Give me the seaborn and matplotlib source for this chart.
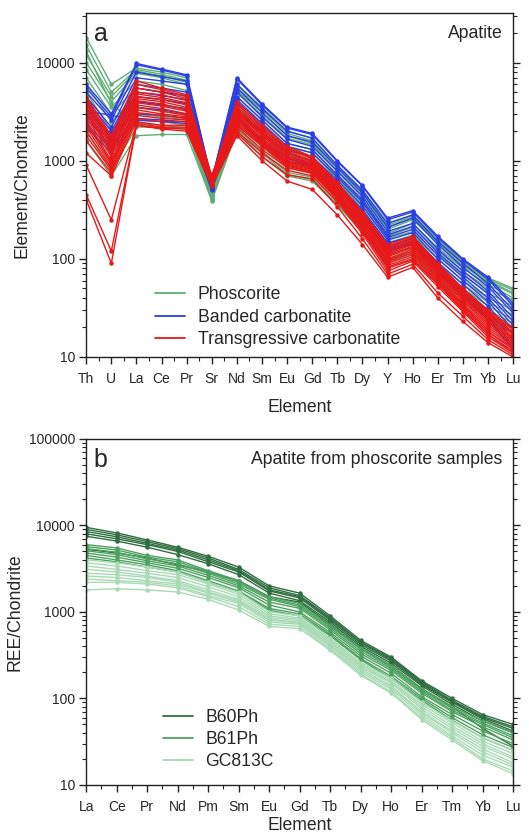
import matplotlib
matplotlib.use("Agg")
import matplotlib.pyplot as plt
from matplotlib.lines import Line2D
from matplotlib.ticker import MultipleLocator, FixedLocator, LogLocator, NullFormatter
import pandas as pd
import seaborn as sns

# ---- data: panel a (Element/Chondrite) ----
elements_a = ["Th", "U", "La", "Ce", "Pr", "Sr", "Nd", "Sm", "Eu", "Gd",
              "Tb", "Dy", "Y", "Ho", "Er", "Tm", "Yb", "Lu"]

phoscorite = [
    [18000, 6000, 8800, 8000, 7000, 560, 6000, 3500, 2000, 1700, 880, 500, 230, 280, 160, 95, 64, 50],
    [15000, 5000, 8500, 7600, 6600, 540, 5600, 3300, 1900, 1600, 850, 480, 220, 270, 155, 92, 62, 48],
    [12000, 4500, 8200, 7300, 6300, 520, 5200, 3100, 1800, 1500, 800, 460, 210, 260, 150, 90, 60, 45],
    [10000, 4000, 7800, 7000, 6000, 500, 5000, 2900, 1700, 1450, 780, 440, 200, 250, 145, 85, 58, 44],
    [8500, 3500, 6500, 6000, 5200, 480, 4500, 2600, 1500, 1300, 700, 400, 180, 230, 130, 80, 55, 40],
    [7000, 3000, 5500, 5000, 4500, 460, 4000, 2400, 1400, 1200, 650, 370, 170, 210, 120, 75, 50, 38],
    [6000, 2500, 4500, 4200, 3800, 450, 3500, 2100, 1250, 1100, 600, 340, 160, 190, 110, 68, 45, 33],
    [5000, 2000, 4000, 3700, 3300, 440, 3100, 1900, 1150, 1000, 550, 310, 145, 175, 100, 60, 40, 30],
    [4000, 1700, 3500, 3200, 2900, 430, 2800, 1700, 1050, 900, 500, 280, 130, 160, 90, 55, 36, 27],
    [3000, 1300, 3000, 2800, 2600, 420, 2500, 1500, 950, 820, 450, 250, 120, 145, 80, 50, 33, 24],
    [2500, 1000, 2600, 2500, 2300, 410, 2300, 1400, 850, 750, 420, 230, 110, 130, 72, 45, 30, 22],
    [2000, 800, 2200, 2200, 2100, 400, 2100, 1250, 760, 680, 380, 210, 100, 120, 66, 40, 27, 20],
    [1600, 700, 1800, 1850, 1850, 390, 2000, 1100, 700, 620, 350, 190, 92, 110, 60, 36, 25, 17],
    [13000, 3800, 2400, 2300, 2150, 450, 2200, 1200, 720, 650, 360, 200, 95, 115, 65, 38, 26, 18],
]

banded = [
    [6000, 3000, 9800, 8600, 7500, 640, 7000, 3800, 2200, 1900, 1000, 560, 260, 310, 170, 100, 65, 35],
    [5500, 2800, 9500, 8400, 7300, 620, 6800, 3700, 2150, 1850, 980, 550, 250, 300, 165, 98, 62, 33],
    [5000, 2600, 8000, 7200, 6500, 600, 6000, 3400, 2000, 1700, 900, 500, 230, 280, 150, 90, 56, 30],
    [4500, 2200, 7000, 6500, 6000, 590, 5500, 3100, 1800, 1550, 850, 470, 210, 260, 140, 82, 52, 28],
    [4200, 2000, 6000, 5500, 5000, 580, 5000, 2800, 1650, 1400, 780, 430, 190, 230, 125, 75, 47, 25],
    [3800, 1800, 5500, 5000, 4600, 570, 4500, 2600, 1500, 1300, 720, 400, 175, 215, 115, 70, 44, 23],
    [3500, 1700, 5000, 4600, 4200, 560, 4200, 2400, 1400, 1200, 680, 380, 165, 200, 108, 65, 40, 21],
    [3300, 1600, 4500, 4200, 3800, 550, 3800, 2200, 1300, 1100, 630, 350, 155, 185, 100, 60, 37, 19],
    [3000, 1500, 4000, 3700, 3400, 540, 3400, 2000, 1200, 1000, 580, 320, 145, 170, 92, 55, 33, 17],
    [2700, 1400, 3500, 3300, 3000, 530, 3100, 1800, 1100, 950, 540, 300, 135, 160, 85, 50, 30, 15],
    [2400, 1300, 3000, 2900, 2700, 520, 2900, 1650, 1050, 900, 510, 285, 128, 150, 80, 46, 27, 13],
    [2200, 1200, 2700, 2600, 2500, 500, 2800, 1550, 1000, 880, 500, 280, 125, 145, 78, 44, 25, 12],
    [3200, 2900, 2600, 2500, 2400, 510, 2700, 1500, 980, 860, 490, 270, 120, 140, 75, 42, 24, 12],
]

transgressive = [
    [4500, 1800, 6500, 5500, 4700, 700, 4000, 2300, 1400, 1100, 600, 300, 140, 170, 90, 50, 30, 20],
    [4200, 1700, 6000, 5300, 4500, 690, 3800, 2200, 1350, 1080, 580, 290, 135, 165, 88, 48, 29, 19],
    [4000, 1600, 5500, 5000, 4300, 680, 3600, 2100, 1300, 1050, 560, 280, 130, 160, 85, 47, 28, 18],
    [3800, 1500, 5000, 4700, 4100, 670, 3400, 2000, 1250, 1000, 540, 270, 125, 155, 82, 45, 27, 17.5],
    [3600, 1400, 4800, 4400, 3900, 660, 3300, 1950, 1200, 980, 520, 260, 120, 150, 80, 44, 26, 17],
    [3400, 1300, 4500, 4200, 3700, 650, 3200, 1900, 1150, 950, 510, 255, 115, 145, 78, 42, 25, 16],
    [3200, 1250, 4300, 4000, 3500, 640, 3100, 1850, 1100, 920, 500, 250, 112, 140, 75, 41, 24, 15.5],
    [3000, 1200, 4100, 3800, 3300, 630, 3000, 1800, 1080, 900, 480, 240, 108, 135, 72, 40, 23, 15],
    [2800, 1100, 3900, 3600, 3200, 620, 2900, 1700, 1050, 880, 470, 235, 105, 130, 70, 38, 22, 14.5],
    [2600, 1000, 3700, 3400, 3000, 610, 2800, 1650, 1000, 860, 460, 230, 100, 125, 68, 37, 21, 14],
    [2400, 950, 3500, 3200, 2900, 600, 2700, 1600, 980, 840, 450, 220, 97, 120, 65, 35, 20, 13.5],
    [2200, 900, 3300, 3000, 2800, 590, 2600, 1550, 950, 820, 440, 215, 94, 115, 63, 34, 19, 13],
    [2000, 850, 3100, 2900, 2700, 580, 2500, 1500, 920, 800, 430, 210, 90, 110, 60, 33, 18, 12.5],
    [1800, 800, 2900, 2700, 2600, 570, 2400, 1450, 900, 780, 420, 200, 86, 105, 58, 32, 18, 12],
    [1600, 750, 2700, 2500, 2500, 560, 2300, 1400, 880, 760, 410, 195, 83, 100, 56, 31, 17, 11.5],
    [1200, 700, 2500, 2300, 2300, 560, 2200, 1300, 850, 740, 400, 190, 80, 98, 55, 30, 17, 11],
    [900, 250, 2400, 2200, 2200, 560, 2000, 1200, 800, 700, 380, 180, 75, 95, 52, 29, 16, 11],
    [450, 120, 2300, 2150, 2100, 560, 1900, 1100, 720, 650, 340, 160, 70, 88, 45, 26, 15, 10.5],
    [400, 90, 2300, 2100, 2000, 550, 1800, 1000, 620, 510, 280, 140, 65, 82, 40, 23, 14, 10],
]

# ---- data: panel b (REE/Chondrite) ----
elements_b = ["La", "Ce", "Pr", "Nd", "Pm", "Sm", "Eu", "Gd", "Tb", "Dy",
              "Ho", "Er", "Tm", "Yb", "Lu"]

b60ph = [
    [9500, 8200, 6800, 5600, 4400, 3300, 2000, 1650, 900, 470, 300, 160, 100, 65, 50],
    [9000, 7800, 6500, 5400, 4200, 3100, 1900, 1550, 860, 450, 290, 155, 95, 62, 47],
    [8500, 7400, 6200, 5200, 4000, 3000, 1800, 1500, 830, 440, 280, 150, 92, 60, 45],
    [8000, 7000, 6000, 5000, 3800, 2900, 1750, 1450, 800, 420, 270, 145, 90, 58, 42],
    [7500, 6600, 5600, 4600, 3600, 2700, 1650, 1350, 760, 400, 255, 140, 85, 55, 40],
    [5300, 4800, 4200, 3500, 2900, 2300, 1500, 1300, 720, 380, 240, 130, 80, 45, 28],
]

b61ph = [
    [6000, 5500, 4500, 4000, 3000, 2300, 1500, 1250, 700, 380, 240, 130, 80, 55, 40],
    [5700, 5200, 4300, 3800, 2900, 2200, 1450, 1200, 680, 370, 230, 125, 77, 52, 37],
    [5400, 4900, 4100, 3600, 2800, 2100, 1400, 1150, 650, 350, 220, 120, 73, 50, 35],
    [5100, 4600, 3900, 3400, 2650, 2000, 1300, 1100, 620, 330, 210, 115, 70, 47, 33],
    [4800, 4300, 3700, 3200, 2500, 1900, 1200, 1000, 580, 310, 195, 105, 65, 42, 30],
    [4500, 4000, 3500, 3000, 2300, 1750, 1100, 950, 550, 290, 180, 100, 60, 38, 27],
    [4200, 3800, 3300, 2900, 2200, 1700, 1050, 900, 530, 280, 170, 95, 56, 35, 25],
]

gc813c = [
    [4000, 3700, 3300, 2900, 2200, 1700, 1000, 900, 500, 260, 170, 90, 55, 35, 25],
    [3700, 3400, 3000, 2700, 2100, 1600, 950, 850, 480, 250, 160, 85, 52, 32, 23],
    [3400, 3100, 2800, 2500, 1950, 1500, 900, 820, 460, 240, 155, 80, 48, 30, 21],
    [3100, 2900, 2600, 2300, 1800, 1400, 860, 790, 440, 230, 150, 75, 45, 28, 20],
    [2800, 2700, 2500, 2200, 1700, 1350, 820, 760, 420, 220, 140, 70, 42, 26, 18],
    [2600, 2500, 2300, 2100, 1650, 1300, 800, 740, 410, 210, 135, 68, 40, 24, 17],
    [2400, 2300, 2200, 2000, 1550, 1250, 760, 720, 390, 200, 128, 64, 37, 22, 16],
    [2200, 2200, 2100, 1900, 1500, 1150, 720, 680, 370, 190, 120, 60, 35, 20, 14.5],
    [1800, 1850, 1800, 1700, 1400, 1050, 680, 640, 360, 185, 115, 57, 33, 19, 13.5],
]

groups_a = ["Phoscorite", "Banded carbonatite", "Transgressive carbonatite"]
colors_a = ["#60ae74", "#2a3ee6", "#e81818"]
groups_b = ["B60Ph", "B61Ph", "GC813C"]
colors_b = ["#2f6e3f", "#4ea261", "#a8dab4"]


def to_long(sets, names, elements):
    rows = []
    for name, lines in zip(names, sets):
        for i, vals in enumerate(lines):
            for j, v in enumerate(vals):
                rows.append({"group": name, "sample": f"{name}_{i}",
                             "pos": j, "element": elements[j], "value": v})
    return pd.DataFrame(rows)


df_a = to_long([phoscorite, banded, transgressive], groups_a, elements_a)
df_b = to_long([b60ph, b61ph, gc813c], groups_b, elements_b)

sns.set_style("ticks")
plt.rcParams["font.family"] = ["Liberation Sans", "DejaVu Sans"]

fig = plt.figure(figsize=(5.29, 8.39), dpi=100)
ax_a = fig.add_axes([0.163, 0.5745, 0.807, 0.410])
ax_b = fig.add_axes([0.163, 0.0645, 0.807, 0.4123])


def draw(ax, df, names, colors, elements, ylim, ylabel, letter, title, leg_xy, xpad):
    sns.lineplot(data=df, x="pos", y="value", hue="group", hue_order=names,
                 palette=colors, units="sample", estimator=None, ax=ax,
                 legend=False, linewidth=1.0, marker="o", markersize=3.2,
                 markeredgewidth=0)
    ax.set_yscale("log")
    ax.set_ylim(*ylim)
    ax.set_xlim(0, len(elements) - 1)
    ax.xaxis.set_major_locator(FixedLocator(range(len(elements))))
    ax.set_xticklabels(elements)
    ax.xaxis.set_minor_locator(MultipleLocator(0.5))
    ax.yaxis.set_major_locator(LogLocator(base=10))
    ax.yaxis.set_minor_locator(LogLocator(base=10, subs=range(2, 10)))
    ax.yaxis.set_minor_formatter(NullFormatter())
    ax.yaxis.set_major_formatter(matplotlib.ticker.FuncFormatter(lambda v, p: f"{int(round(v))}"))
    ax.tick_params(axis="both", which="major", direction="out", length=5,
                   width=1, labelsize=10, color="#222222")
    ax.tick_params(axis="x", which="major", pad=6)
    ax.tick_params(axis="y", which="major", pad=3)
    ax.tick_params(axis="both", which="minor", direction="out", length=3,
                   width=0.8, color="#222222")
    ax.tick_params(axis="y", which="both", left=True, right=True)
    ax.tick_params(axis="x", which="both", bottom=True, top=False)
    for sp in ax.spines.values():
        sp.set_visible(True)
        sp.set_linewidth(1.0)
        sp.set_color("#222222")
    ax.set_xlabel("Element", fontsize=12.7, labelpad=xpad)
    ax.set_ylabel(ylabel, fontsize=12.7, labelpad=4)
    ax.text(0.018, 0.975, letter, transform=ax.transAxes, fontsize=18,
            ha="left", va="top")
    ax.text(0.975, 0.965, title, transform=ax.transAxes, fontsize=12.7,
            ha="right", va="top")
    handles = [Line2D([0], [0], color=c, lw=1.3) for c in colors]
    ax.legend(handles, names, loc="upper left", bbox_to_anchor=leg_xy,
              frameon=False, fontsize=12.7, handlelength=1.7,
              handletextpad=0.7, labelspacing=0.3, borderpad=0,
              borderaxespad=0)


draw(ax_a, df_a, groups_a, colors_a, elements_a, (10, 32000),
     "Element/Chondrite", "a", "Apatite", (0.162, 0.205), 9)
draw(ax_b, df_b, groups_b, colors_b, elements_b, (10, 100000),
     "REE/Chondrite", "b", "Apatite from phoscorite samples", (0.18, 0.22), 2)

fig.savefig("out.png", dpi=100)
